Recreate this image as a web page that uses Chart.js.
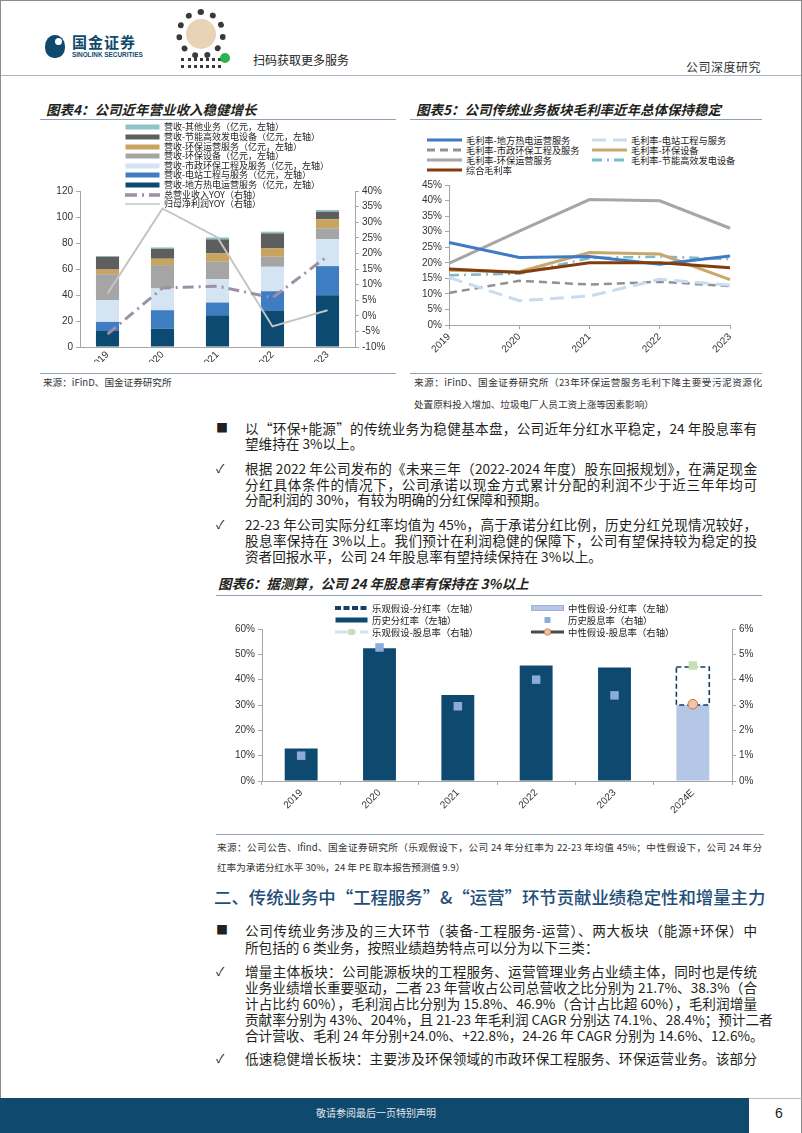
<!DOCTYPE html>
<html lang="zh-CN">
<head>
<meta charset="utf-8">
<script src="https://cdn.jsdelivr.net/npm/chart.js@4.4.1/dist/chart.umd.min.js"></script>
<style>
  html, body { margin: 0; padding: 0; background: #fff; }
  body { width: 802px; height: 1133px; position: relative; overflow: hidden;
         font-family: "Noto Sans CJK SC", "Noto Sans", sans-serif; color: #231f20; }
  .frame { position: absolute; left: 0; top: 0; width: 800px; height: 1133px; border: 1px solid #8c8c8c; border-bottom: none; }
  .hline { position: absolute; height: 0; border-top: 1.5px solid #8EA1B6; }
  .title { position: absolute; font-size: 13.5px; font-weight: 700; font-style: italic; line-height: 18px; white-space: nowrap; }
  .src { position: absolute; font-size: 9.6px; line-height: 14px; white-space: nowrap; color: #333; }
  .body { position: absolute; left: 245px; width: 512px; font-size: 13.6px; line-height: 16px; white-space: nowrap; }
  .just { text-align: justify; text-align-last: justify; }
  .mark { position: absolute; left: 216px; font-size: 12px; line-height: 16px; }
  .leg { position: absolute; line-height: 10px; white-space: nowrap; color: #222; display: flex; align-items: center; }
  .leg svg { margin-right: 4px; flex: none; }
  canvas { position: absolute; }
</style>
</head>
<body>
<div class="frame"></div>

<!-- header -->
<div style="position:absolute;left:45px;top:35px;width:20px;height:23px;background:#0F4A6E;border-radius:50% 50% 45% 45%;"></div>
<div style="position:absolute;left:55px;top:38px;width:7px;height:7px;background:#fff;border-radius:50%;"></div>
<div style="position:absolute;left:72px;top:33px;font-size:15px;font-weight:700;color:#0F4A6E;letter-spacing:1px;line-height:18px;">国金证券</div>
<div style="position:absolute;left:72px;top:51px;font-size:6.4px;font-weight:700;color:#0F4A6E;line-height:7px;font-family:'Liberation Sans',Arial,sans-serif;">SINOLINK SECURITIES</div>
<div style="position:absolute;left:176px;top:9px;width:50px;height:50px;border-radius:50%;border:6px dotted #3a3a3a;box-sizing:border-box;"></div>
<div style="position:absolute;left:186px;top:19px;width:30px;height:30px;border-radius:50%;background:#E9D3B7;"></div>
<div style="position:absolute;left:181px;top:58px;width:40px;height:10px;border-top:3px dotted #3a3a3a;border-bottom:3px dotted #3a3a3a;box-sizing:border-box;"></div>
<div style="position:absolute;left:220px;top:53px;width:10px;height:10px;border-radius:50%;background:#2DB34A;"></div>
<div style="position:absolute;left:253px;top:52px;font-size:12px;line-height:16px;color:#222;">扫码获取更多服务</div>
<div style="position:absolute;left:686px;top:60px;font-size:12px;line-height:14px;color:#333;letter-spacing:0.5px;">公司深度研究</div>
<div class="hline" style="left:1px;top:75px;width:800px;border-top:1.5px solid #A8B8C8;"></div>

<!-- figure titles -->
<div class="title" style="left:46px;top:100px;">图表4：公司近年营业收入稳健增长</div>
<div class="hline" style="left:40px;top:119px;width:356px;"></div>
<div class="title" style="left:416px;top:100px;">图表5：公司传统业务板块毛利率近年总体保持稳定</div>
<div class="hline" style="left:410px;top:119px;width:352px;"></div>

<canvas id="c4" width="360" height="242" style="left:40px;top:120px;"></canvas>
<canvas id="c5" width="360" height="190" style="left:410px;top:175px;"></canvas>

<div class="hline" style="left:40px;top:373px;width:356px;"></div>
<div class="hline" style="left:410px;top:373px;width:352px;"></div>
<div class="src" style="left:43px;top:375px;">来源：iFinD、国金证券研究所</div>
<div class="src just" style="left:414px;top:375px;width:348px;">来源：iFinD、国金证券研究所（23年环保运营服务毛利下降主要受污泥资源化</div>
<div class="src" style="left:414px;top:397px;">处置原料投入增加、垃圾电厂人员工资上涨等因素影响）</div>

<!-- bullets -->
<div class="mark" style="top:420px;">■</div>
<div class="body just" style="top:420px;">以“环保+能源”的传统业务为稳健基本盘，公司近年分红水平稳定，24 年股息率有</div>
<div class="body" style="top:435px;">望维持在 3%以上。</div>

<div class="mark" style="top:460px;">✓</div>
<div class="body just" style="top:460px;">根据 2022 年公司发布的《未来三年（2022-2024 年度）股东回报规划》，在满足现金</div>
<div class="body just" style="top:476px;">分红具体条件的情况下，公司承诺以现金方式累计分配的利润不少于近三年年均可</div>
<div class="body" style="top:491px;">分配利润的 30%，有较为明确的分红保障和预期。</div>

<div class="mark" style="top:516px;">✓</div>
<div class="body just" style="top:516px;">22-23 年公司实际分红率均值为 45%，高于承诺分红比例，历史分红兑现情况较好，</div>
<div class="body just" style="top:532px;">股息率保持在 3%以上。我们预计在利润稳健的保障下，公司有望保持较为稳定的投</div>
<div class="body" style="top:548px;">资者回报水平，公司 24 年股息率有望持续保持在 3%以上。</div>

<div class="title" style="left:218px;top:574px;">图表6：据测算，公司 24 年股息率有保持在 3%以上</div>
<div class="hline" style="left:216px;top:595px;width:546px;"></div>

<canvas id="c6" width="560" height="230" style="left:215px;top:600px;"></canvas>

<div class="hline" style="left:216px;top:834px;width:548px;"></div>
<div class="src just" style="left:217px;top:840px;width:545px;">来源：公司公告、Ifind、国金证券研究所（乐观假设下，公司 24 年分红率为 22-23 年均值 45%；中性假设下，公司 24 年分</div>
<div class="src" style="left:217px;top:860px;">红率为承诺分红水平 30%，24 年 PE 取本报告预测值 9.9）</div>

<div style="position:absolute;left:214px;top:885px;width:522px;font-size:17.4px;line-height:24px;color:#1F4E79;font-weight:500;white-space:nowrap;text-align:justify;text-align-last:justify;">二、传统业务中“工程服务”&amp;“运营”环节贡献业绩稳定性和增量主力</div>

<div class="mark" style="top:922px;">■</div>
<div class="body just" style="top:922px;">公司传统业务涉及的三大环节（装备-工程服务-运营）、两大板块（能源+环保）中</div>
<div class="body" style="top:939px;">所包括的 6 类业务，按照业绩趋势特点可以分为以下三类：</div>

<div class="mark" style="top:963px;">✓</div>
<div class="body just" style="top:963px;">增量主体板块：公司能源板块的工程服务、运营管理业务占业绩主体，同时也是传统</div>
<div class="body just" style="top:979px;">业务业绩增长重要驱动，二者 23 年营收占公司总营收之比分别为 21.7%、38.3%（合</div>
<div class="body just" style="top:995px;">计占比约 60%），毛利润占比分别为 15.8%、46.9%（合计占比超 60%），毛利润增量</div>
<div class="body just" style="top:1011px;">贡献率分别为 43%、204%，且 21-23 年毛利润 CAGR 分别达 74.1%、28.4%；预计二者</div>
<div class="body just" style="top:1027px;">合计营收、毛利 24 年分别+24.0%、+22.8%，24-26 年 CAGR 分别为 14.6%、12.6%。</div>

<div class="mark" style="top:1050px;">✓</div>
<div class="body just" style="top:1050px;">低速稳健增长板块：主要涉及环保领域的市政环保工程服务、环保运营业务。该部分</div>

<!-- footer -->
<div style="position:absolute;left:0;top:1098px;width:749px;height:35px;background:#0F4A6E;"></div>
<div class="hline" style="left:749px;top:1098px;width:53px;border-top:1px solid #bbb;"></div>
<div style="position:absolute;left:316px;top:1106px;font-size:10px;line-height:14px;color:#E0E6EC;">敬请参阅最后一页特别声明</div>
<div style="position:absolute;left:775px;top:1104px;font-size:14px;line-height:18px;color:#222;font-family:'Liberation Sans',Arial,sans-serif;">6</div>

<script>
// ---- 图表4：营收构成（亿元）与增速 ----
const years = ['2019', '2020', '2021', '2022', '2023'];
const revHeat = [12.3, 14.1, 24.4, 27.8, 39.8];
const revPlant = [7.0, 14.2, 9.8, 15.1, 22.4];
const revMunicipal = [16.7, 16.7, 18.0, 18.8, 20.8];
const revEquip = [20.0, 18.0, 13.4, 7.7, 8.3];
const revEnvOps = [3.6, 4.9, 6.4, 6.4, 6.9];
const revPowerEquip = [9.8, 7.7, 10.8, 11.6, 5.9];
const revOther = [0.6, 1.0, 1.5, 1.3, 1.3];
const revYoy = [-5.9, 8.9, 9.5, 5.8, 19.1];
const profitYoy = [7.1, 34.4, 25.1, -3.4, 1.8];

// ---- 图表5：各业务毛利率（%） ----
const gmHeat = [26.5, 21.7, 22.0, 19.5, 22.2];
const gmPlant = [15.3, 7.8, 9.3, 14.7, 12.8];
const gmMunicipal = [10.3, 14.2, 13.0, 13.9, 12.5];
const gmEquip = [17.6, 17.1, 23.3, 22.8, 14.6];
const gmEnvOps = [19.8, 30.2, 40.3, 39.9, 31.1];
const gmPowerEquip = [16.0, 16.5, 21.5, 22.0, 21.2];
const gmTotal = [18.0, 16.9, 20.0, 20.0, 18.4];

// ---- 图表6：分红率与股息率（%） ----
const divYears = ['2019', '2020', '2021', '2022', '2023', '2024E'];
const payoutHist = [12.8, 52.4, 33.9, 45.6, 44.8, null];
const payoutNeutral = [null, null, null, null, null, 30];
const payoutOptimistic = [null, null, null, null, null, 45];
const yieldHist = [1.0, 5.27, 2.95, 4.0, 3.38, null];
const yieldOptimistic = [null, null, null, null, null, 4.56];
const yieldNeutral = [null, null, null, null, null, 3.03];

const tickFont = { family: "'Liberation Sans Narrow', 'Liberation Sans', Arial, sans-serif", size: 10 };
const axisGray = '#A6A6A6';
const tickColor = '#333';
const pct = v => v + '%';

function yAxis(extra, width) {
  return Object.assign({
    border: { color: axisGray },
    grid: { drawOnChartArea: false, drawTicks: true, tickLength: 4, color: axisGray },
    ticks: { font: tickFont, color: tickColor, padding: 3 },
    afterFit(s) { s.width = width; }
  }, extra);
}
function xAxis(height, drawTicks) {
  return {
    border: { color: axisGray },
    grid: { drawOnChartArea: false, drawTicks: drawTicks, tickLength: 4, color: axisGray },
    ticks: { font: tickFont, color: tickColor, minRotation: 45, maxRotation: 45, padding: 2 },
    afterFit(s) { s.height = height; }
  };
}
const baseOpts = {
  animation: false,
  responsive: false,
  plugins: { legend: { display: false }, tooltip: { enabled: false } }
};

// ---- chart 4 ----
const c4Sets = [
  { label: '营收-地方热电运营服务（亿元，左轴）', data: revHeat, backgroundColor: '#0D4A72' },
  { label: '营收-电站工程与服务（亿元，左轴）', data: revPlant, backgroundColor: '#3F7DC3' },
  { label: '营收-市政环保工程及服务（亿元，左轴）', data: revMunicipal, backgroundColor: '#D5E4F3' },
  { label: '营收-环保设备（亿元，左轴）', data: revEquip, backgroundColor: '#A5A5A5' },
  { label: '营收-环保运营服务（亿元，左轴）', data: revEnvOps, backgroundColor: '#C8A45E' },
  { label: '营收-节能高效发电设备（亿元，左轴）', data: revPowerEquip, backgroundColor: '#5E5E5E' },
  { label: '营收-其他业务（亿元，左轴）', data: revOther, backgroundColor: '#8EC3C7' }
].map(d => Object.assign(d, { stack: 'rev', order: 1, barPercentage: 0.42, categoryPercentage: 1 }));

const c4Lines = [
  { type: 'line', label: '总营业收入YOY（右轴）', data: revYoy, yAxisID: 'y1', borderColor: '#9D8FA6',
    borderWidth: 3, borderDash: [11, 5, 2, 5], pointRadius: 0, order: 0 },
  { type: 'line', label: '归母净利润YOY（右轴）', data: profitYoy, yAxisID: 'y1', borderColor: '#C4C4C4',
    borderWidth: 2, pointRadius: 0, order: 0 }
];

new Chart(document.getElementById('c4'), {
  type: 'bar',
  data: { labels: years, datasets: c4Sets.concat(c4Lines) },
  options: Object.assign({}, baseOpts, {
    layout: { padding: { top: 71, left: 0, right: 0, bottom: 0 } },
    scales: {
      x: Object.assign(xAxis(15, false), { stacked: true }),
      y: yAxis({ stacked: true, min: 0, max: 120, ticks: { font: tickFont, color: tickColor, padding: 3, stepSize: 20 } }, 40),
      y1: yAxis({ position: 'right', min: -10, max: 40,
        ticks: { font: tickFont, color: tickColor, padding: 3, stepSize: 5, callback: pct } }, 45)
    }
  })
});

// ---- chart 5 ----
const c5Sets = [
  { label: '毛利率-地方热电运营服务', data: gmHeat, borderColor: '#3E7BC4', borderWidth: 3, order: 1 },
  { label: '毛利率-电站工程与服务', data: gmPlant, borderColor: '#C9DBEF', borderWidth: 3, borderDash: [14, 7], order: 3 },
  { label: '毛利率-市政环保工程及服务', data: gmMunicipal, borderColor: '#8E9298', borderWidth: 2.5, borderDash: [8, 5], order: 3 },
  { label: '毛利率-环保设备', data: gmEquip, borderColor: '#C9A76A', borderWidth: 3, order: 2 },
  { label: '毛利率-环保运营服务', data: gmEnvOps, borderColor: '#A6A6A6', borderWidth: 3, order: 2 },
  { label: '毛利率-节能高效发电设备', data: gmPowerEquip, borderColor: '#7DBACA', borderWidth: 2.5, borderDash: [10, 5, 2, 5], order: 3 },
  { label: '综合毛利率', data: gmTotal, borderColor: '#843C0C', borderWidth: 3, order: 0 }
].map(d => Object.assign(d, { pointRadius: 0, tension: 0, fill: false }));

new Chart(document.getElementById('c5'), {
  type: 'line',
  data: { labels: years, datasets: c5Sets },
  options: Object.assign({}, baseOpts, {
    layout: { padding: { top: 10, left: 0, right: 40, bottom: 0 } },
    scales: {
      x: xAxis(40, true),
      y: yAxis({ min: 0, max: 45, ticks: { font: tickFont, color: tickColor, padding: 3, stepSize: 5, callback: pct } }, 39)
    }
  })
});

// ---- chart 6 ----
const OPT_COLOR = '#123F63';
const dashedBox = {
  id: 'dashedBox',
  afterDatasetDraw(chart, args) {
    const ds = chart.data.datasets[args.index];
    if (!ds.dashedOutline) return;
    const ctx = chart.ctx;
    args.meta.data.forEach((bar, i) => {
      if (ds.data[i] == null) return;
      const p = bar.getProps(['x', 'y', 'base', 'width'], true);
      ctx.save();
      ctx.setLineDash([5, 3]);
      ctx.strokeStyle = OPT_COLOR;
      ctx.lineWidth = 1.6;
      ctx.strokeRect(p.x - p.width / 2, Math.min(p.y, p.base), p.width, Math.abs(p.base - p.y));
      ctx.restore();
    });
  }
};

const c6Bar = { barPercentage: 0.42, categoryPercentage: 1, grouped: false, order: 2 };
new Chart(document.getElementById('c6'), {
  type: 'bar',
  data: {
    labels: divYears,
    datasets: [
      Object.assign({ label: '历史分红率（左轴）', data: payoutHist, backgroundColor: '#0E4A6F' }, c6Bar),
      Object.assign({ label: '中性假设-分红率（左轴）', data: payoutNeutral, backgroundColor: '#B4C7E7' }, c6Bar),
      Object.assign({ label: '乐观假设-分红率（左轴）', dashedOutline: true, backgroundColor: 'rgba(0,0,0,0)', borderWidth: 0,
        data: payoutOptimistic.map((v, i) => v == null ? null : [payoutNeutral[i], v]) }, c6Bar, { order: 1 }),
      { type: 'line', label: '历史股息率（右轴）', data: yieldHist, yAxisID: 'y1', showLine: false, order: 0,
        pointStyle: 'rect', pointRadius: 6, backgroundColor: '#8EA9DB', borderColor: '#8EA9DB', borderWidth: 0 },
      { type: 'line', label: '乐观假设-股息率（右轴）', data: yieldOptimistic, yAxisID: 'y1', showLine: false, order: 0,
        pointStyle: 'rect', pointRadius: 6, backgroundColor: '#C5E0B4', borderColor: '#C5E0B4', borderWidth: 0 },
      { type: 'line', label: '中性假设-股息率（右轴）', data: yieldNeutral, yAxisID: 'y1', showLine: false, order: 0,
        pointStyle: 'circle', pointRadius: 4.8, backgroundColor: '#F6C3A0', borderColor: '#B07A55', borderWidth: 1 }
    ]
  },
  options: Object.assign({}, baseOpts, {
    layout: { padding: { top: 29, left: 0, right: 0, bottom: 0 } },
    scales: {
      x: xAxis(49, true),
      y: yAxis({ min: 0, max: 60, ticks: { font: tickFont, color: tickColor, padding: 3, stepSize: 10, callback: pct } }, 47),
      y1: yAxis({ position: 'right', min: 0, max: 6,
        ticks: { font: tickFont, color: tickColor, padding: 3, stepSize: 1, callback: pct } }, 43)
    }
  }),
  plugins: [dashedBox]
});

// ---- HTML legends ----
function swatch(o) {
  const w = o.w || 35;
  let s = '';
  if (o.kind === 'bar') s += `<rect x="0.5" y="1.5" width="${w - 1}" height="5" fill="${o.color}"${o.stroke ? ` stroke="${o.stroke}" stroke-width="1"` : ''}/>`;
  if (o.kind === 'line') s += `<line x1="0" y1="4" x2="${w}" y2="4" stroke="${o.color}" stroke-width="${o.width || 3}"${o.dash ? ` stroke-dasharray="${o.dash}"` : ''}/>`;
  if (o.marker === 'rect') s += `<rect x="${w / 2 - 3}" y="1" width="6" height="6" fill="${o.mcolor}"/>`;
  if (o.marker === 'circle') s += `<circle cx="${w / 2}" cy="4" r="3.2" fill="${o.mcolor}" stroke="${o.mstroke}" stroke-width="0.8"/>`;
  return `<svg width="${w}" height="8">${s}</svg>`;
}
function legend(x, y, o, text, size) {
  const d = document.createElement('div');
  d.className = 'leg';
  d.style.left = x + 'px';
  d.style.top = (y - 5) + 'px';
  d.style.fontSize = size + 'px';
  d.innerHTML = swatch(o) + '<span>' + text + '</span>';
  document.body.appendChild(d);
}

// chart 4 legend: bars top-down from last to first, then lines
const c4Legend = c4Sets.slice().reverse().map(d => [{ kind: 'bar', color: d.backgroundColor }, d.label])
  .concat([
    [{ kind: 'line', color: c4Lines[0].borderColor, width: 3.5, dash: '12 5 2 5' }, c4Lines[0].label],
    [{ kind: 'line', color: c4Lines[1].borderColor, width: 1.5 }, c4Lines[1].label]
  ]);
c4Legend.forEach((it, i) => legend(125, 127.3 + i * 9.6, it[0], it[1], 9));

// chart 5 legend: two columns
c5Sets.forEach((d, i) => {
  const col = i % 2, row = Math.floor(i / 2);
  legend(col ? 592 : 427, 140 + row * 10,
    { kind: 'line', color: d.borderColor, width: 3, dash: d.borderDash ? d.borderDash.join(' ') : null },
    d.label, 9.2);
});

// chart 6 legend
legend(335, 608, { kind: 'line', color: OPT_COLOR, width: 4, dash: '6 2.5', w: 33 }, '乐观假设-分红率（左轴）', 9.4);
legend(531, 608, { kind: 'bar', color: '#B4C7E7', stroke: '#9FB3D6', w: 33 }, '中性假设-分红率（左轴）', 9.4);
legend(335, 620, { kind: 'bar', color: '#0E4A6F', w: 33 }, '历史分红率（左轴）', 9.4);
legend(531, 620, { kind: 'none', marker: 'rect', mcolor: '#8EA9DB', w: 33 }, '历史股息率（右轴）', 9.4);
legend(335, 632, { kind: 'line', color: '#D6E1EE', width: 3, dash: '14 4 3 4', marker: 'rect', mcolor: '#C5E0B4', w: 33 }, '乐观假设-股息率（右轴）', 9.4);
legend(531, 632, { kind: 'line', color: '#4A4A4A', width: 3, marker: 'circle', mcolor: '#F6C3A0', mstroke: '#B07A55', w: 33 }, '中性假设-股息率（右轴）', 9.4);
</script>
</body>
</html>
